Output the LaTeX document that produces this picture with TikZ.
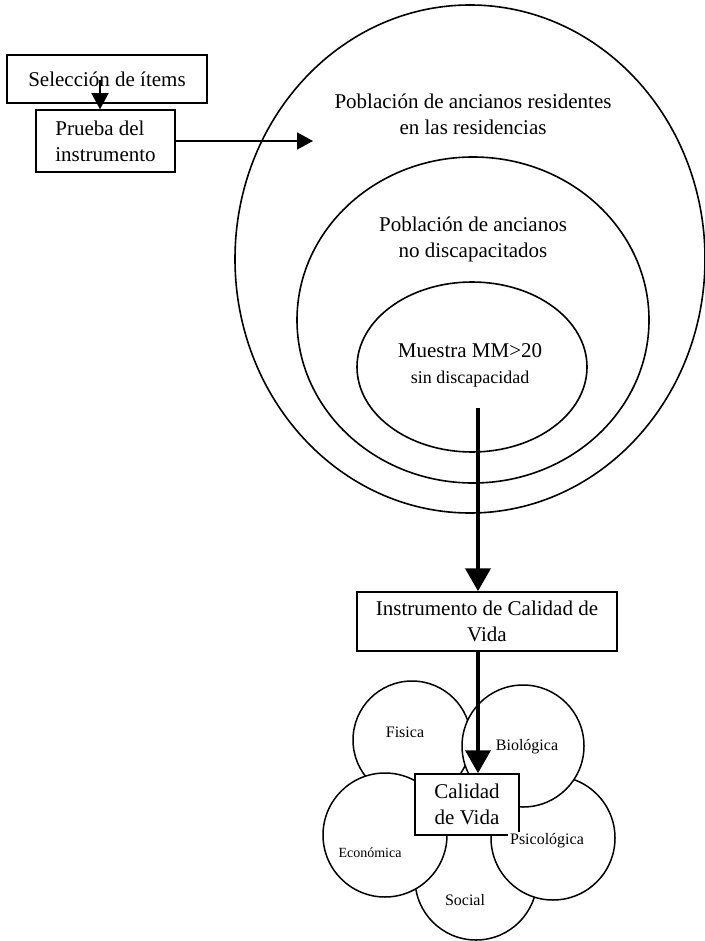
\documentclass[tikz,border=0pt]{standalone}
\usepackage{fontspec}
\setmainfont{Liberation Serif}
\usetikzlibrary{arrows.meta,shapes.geometric}
\begin{document}
\begin{tikzpicture}[x=1pt,y=-1pt,
 big/.style={font=\fontsize{21}{26}\selectfont},
 boxn/.style={draw, line width=1.5pt, fill=white, inner sep=0pt, big, align=center},
 ring/.style={draw, ellipse, line width=1.6pt, inner sep=0pt},
 petal/.style={draw, circle, line width=1.5pt, fill=white, inner sep=0pt},
 lbl/.style={inner sep=0pt, align=center},
 small/.style={lbl, font=\fontsize{16}{19}\selectfont},
 thinarrow/.style={line width=1.5pt, -{Triangle[length=16pt,width=17pt]}},
 thickarrow/.style={line width=4pt, -{Triangle[length=23pt,width=25pt]}}
]
\useasboundingbox (0,0) rectangle (704,941);

% big ellipses
\node[ring, minimum width=470pt, minimum height=508pt] (outer) at (470,259) {};
\node[ring, minimum width=352pt, minimum height=326pt] (middle) at (473,320) {};
\node[ring, minimum width=230pt, minimum height=170pt] (inner) at (472,367) {};

\node[big, lbl] (t1) at (473,114) {Población de ancianos residentes\\en las residencias};
\node[big, lbl] (t2) at (473,239) {Población de ancianos\\no discapacitados};
\node[big, lbl] (t3) at (470,365) {Muestra MM>20\\{\fontsize{18}{22}\selectfont sin discapacidad}};

% top-left boxes
\node[boxn, minimum width=200pt, minimum height=48pt] (sel) at (107,79) {Selección de ítems};
\node[boxn, minimum width=139pt, minimum height=62pt, align=left] (prueba) at (105.5,141) {Prueba del\\instrumento};
\coordinate (tipA) at (313,141);
\draw[thinarrow] ([xshift=-7pt,yshift=-1pt]sel.center) -- ([xshift=-5.5pt]prueba.north);
\draw[thinarrow] (prueba.east) -- (tipA);

% instrument box
\node[boxn, minimum width=260pt, minimum height=59pt] (inst) at (487,621.5) {Instrumento de Calidad de\\Vida};
\coordinate (s1) at (478,408);
\draw[thickarrow] (s1) -- (s1 |- inst.north);

% petals
\node[petal, minimum size=122pt] (social) at (476,879) {};
\node[petal, minimum size=118pt] (fisica) at (412,740) {};
\node[petal, minimum size=124pt] (econ) at (385,835) {};
\node[petal, minimum size=124pt] (psico) at (553,838) {};
\node[petal, minimum size=122pt] (bio) at (523,746) {};

\node[small] (lf) at (405,732) {Fisica};
\node[small] (lb) at (527,747) {Biológica};
\node[lbl, font=\fontsize{14}{17}\selectfont] (le) at (370,853) {Económica};
\node[small] (ls) at (465,900) {Social};

\node[boxn, minimum width=104pt, minimum height=61pt] (cal) at (467,804.5) {Calidad\\de Vida};
\draw[thickarrow] (inst.south -| s1) -- (s1 |- cal.north);
\node[small, fill=white, inner sep=2pt] (lp) at (547,841) {Psicológica};
\end{tikzpicture}
\end{document}
